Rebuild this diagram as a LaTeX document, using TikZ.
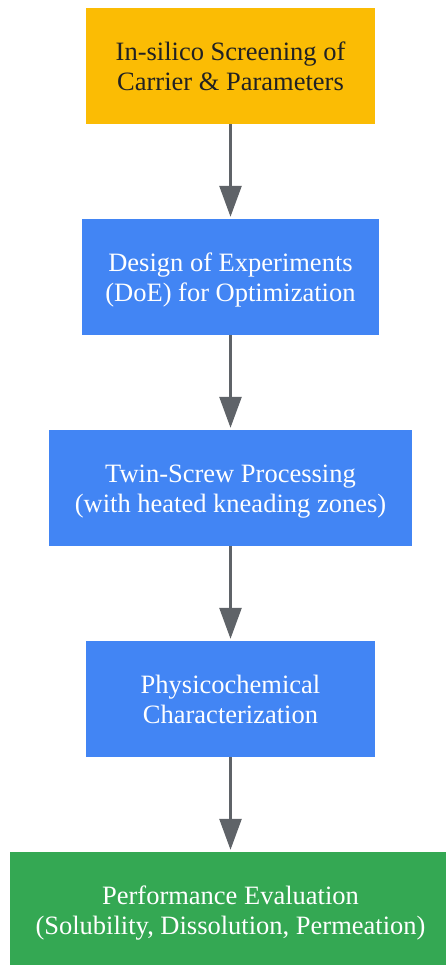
\documentclass[tikz,border=0pt]{standalone}
\usepackage{fontspec}
\setmainfont{Liberation Serif}
\usetikzlibrary{arrows.meta}
\definecolor{gyellow}{HTML}{FBBC04}
\definecolor{gblue}{HTML}{4285F4}
\definecolor{ggreen}{HTML}{34A853}
\definecolor{garrow}{HTML}{5F6368}
\definecolor{gtext}{HTML}{202124}

\begin{document}
\begin{tikzpicture}[x=1pt, y=-1pt,
	stepbox/.style={rectangle, minimum height=116pt, inner sep=0pt, align=center,
		text height=49.4pt, text depth=0pt, font=\fontsize{26.5}{30}\selectfont},
	flow/.style={garrow, line width=2.6pt, -{Triangle[width=22pt, length=31pt]}, shorten >=2pt}]
	\useasboundingbox (0,0) rectangle (446,965);

	\node[stepbox, fill=gyellow, text=gtext, minimum width=289pt] (screen) at (230.5,66) {In-silico Screening of\\Carrier \& Parameters};
	\node[stepbox, fill=gblue, text=white, minimum width=297pt] (doe) at (230.5,277) {Design of Experiments\\(DoE) for Optimization};
	\node[stepbox, fill=gblue, text=white, minimum width=363pt] (twin) at (230.5,488) {Twin-Screw Processing\\(with heated kneading zones)};
	\node[stepbox, fill=gblue, text=white, minimum width=289pt] (charac) at (230.5,699) {Physicochemical\\Characterization};
	\node[stepbox, fill=ggreen, text=white, minimum width=441pt] (perf) at (230.5,910) {Performance Evaluation\\(Solubility, Dissolution, Permeation)};

	\foreach \a/\b in {screen/doe, doe/twin, twin/charac, charac/perf}
	{
	\draw[flow] (\a) -- (\b);
}

\end{tikzpicture}
\end{document}
